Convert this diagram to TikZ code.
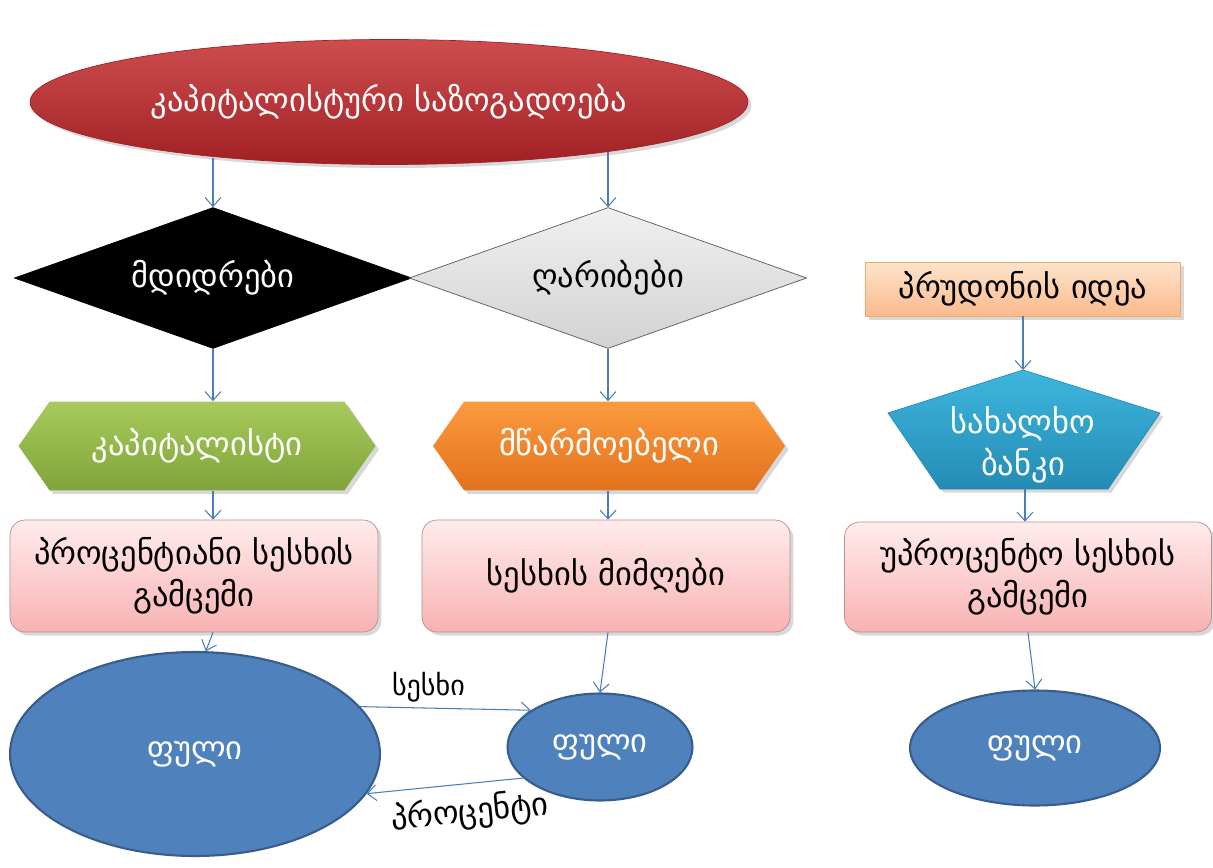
\documentclass[tikz,border=0pt]{standalone}
\usepackage{fontspec}
\setmainfont{DejaVu Sans}
\usepackage{tikz}
\usetikzlibrary{shapes.geometric,shapes.symbols,shadows,arrows.meta}
\definecolor{arrowblue}{RGB}{74,126,187}
\definecolor{socred}{RGB}{200,58,60}
\definecolor{socdark}{RGB}{160,32,36}
\definecolor{moneyblue}{RGB}{79,129,189}
\definecolor{moneyline}{RGB}{56,93,138}
\definecolor{pinktop}{RGB}{255,236,236}
\definecolor{pinkbot}{RGB}{248,178,178}
\definecolor{pinkline}{RGB}{190,140,140}
\tikzset{
  arr/.style={draw=arrowblue, line width=0.6pt, -{Straight Barb[length=5pt,width=9pt]}},
  txt/.style={font=\fontsize{18.5}{24}\selectfont, align=center},
  shade/.style={drop shadow={shadow xshift=2pt, shadow yshift=-2pt, opacity=0.3}},
  class/.style={txt, diamond, aspect=2.84, inner sep=0pt, minimum width=7.95cm, minimum height=2.82cm},
  loanbox/.style={txt, shade, rectangle, rounded corners=0.3cm, draw=pinkline,
    top color=pinktop, bottom color=pinkbot, minimum width=7.36cm, minimum height=2.24cm},
  money/.style={txt, ellipse, text=white, fill=moneyblue, draw=moneyline, line width=1.2pt}
}
\begin{document}
\begin{tikzpicture}[x=0.02cm, y=-0.02cm]
        \useasboundingbox[fill=white] (0,0) rectangle (1213,868);
        \node[txt, shade, ellipse, text=white, top color=socred!90!white, bottom color=socdark,
          draw=socdark, minimum width=14.36cm, minimum height=2.5cm] (soc) at (389,102)
          {კაპიტალისტური საზოგადოება};
        \node[class, text=white, fill=black, draw=black] (rich) at (213,278) {მდიდრები};
        \node[class, top color=gray!12, bottom color=gray!35, draw=gray!70!black] (poor) at (608,278) {ღარიბები};
        \node[txt, shade, signal, signal to=west and east, signal pointer angle=110, text=white,
          top color={rgb,255:red,168;green,202;blue,92}, bottom color={rgb,255:red,128;green,164;blue,58},
          minimum width=7.14cm, minimum height=1.78cm] (cap) at (197,446) {კაპიტალისტი};
        \node[txt, shade, signal, signal to=west and east, signal pointer angle=110, text=white,
          top color={rgb,255:red,252;green,154;blue,62}, bottom color={rgb,255:red,226;green,114;blue,30},
          minimum width=7.04cm, minimum height=1.78cm] (prod) at (609,446) {მწარმოებელი};
        \node[loanbox] (lend) at (194,576) {პროცენტიანი სესხის\\გამცემი};
        \node[loanbox] (borrow) at (606,576) {სესხის მიმღები};
        \node[loanbox, minimum width=7.34cm, minimum height=2.2cm] (free) at (1028,577)
          {უპროცენტო სესხის\\გამცემი};
        \node[txt, shade, rectangle, draw={rgb,255:red,240;green,170;blue,110},
          top color={rgb,255:red,254;green,228;blue,204}, bottom color={rgb,255:red,250;green,186;blue,140},
          minimum width=6.3cm, minimum height=1.08cm] (prud) at (1023,289) {პრუდონის იდეა};
        \coordinate (b1) at (1023,370);
        \coordinate (b2) at (1160,413);
        \coordinate (b3) at (1108,489);
        \coordinate (b4) at (940,489);
        \coordinate (b5) at (888,413);
        \draw[shade, top color={rgb,255:red,62;green,182;blue,222}, bottom color={rgb,255:red,36;green,140;blue,180},
          draw={rgb,255:red,36;green,140;blue,180}] (b1) -- (b2) -- (b3) -- (b4) -- (b5) -- cycle;
        \node[txt, text=white] (bank) at (1023,445) {სახალხო\\ბანკი};
        \coordinate (bb) at (1025,489);
        \coordinate (s1) at (213,158);
        \coordinate (s2) at (608,152);
        \node[money, minimum width=7.4cm, minimum height=4.08cm] (money1) at (195,754) {ფული};
        \node[money, minimum width=3.7cm, minimum height=2.14cm] (money2) at (600,747) {ფული};
        \node[money, minimum width=5cm, minimum height=2.3cm] (money3) at (1035,748) {ფული};
        \draw[arr] (s1) -- (rich.north);
        \draw[arr] (s2) -- (poor.north);
        \draw[arr] (rich.south) -- (rich.south |- cap.north);
        \draw[arr] (poor.south) -- (poor.south |- prod.north);
        \draw[arr] (rich.south |- cap.south) -- (rich.south |- lend.north);
        \draw[arr] (poor.south |- prod.south) -- (poor.south |- borrow.north);
        \draw[arr] (rich.south |- lend.south) -- (money1.84);
        \draw[arr] (poor.south |- borrow.south) -- (money2.north);
        \draw[arr] (prud.south) -- (b1);
        \draw[arr] (bb) -- (bb |- free.north);
        \draw[arr] (free.south) -- (money3.north);
        \draw[arr] (money1.16) -- node[txt, above, font=\fontsize{16}{18}\selectfont, pos=0.4] {სესხი} (money2.152);
        \draw[arr] (money2.202) -- node[txt, below=3pt, sloped, pos=0.36] {პროცენტი} (money1.-13);
\end{tikzpicture}
\end{document}
